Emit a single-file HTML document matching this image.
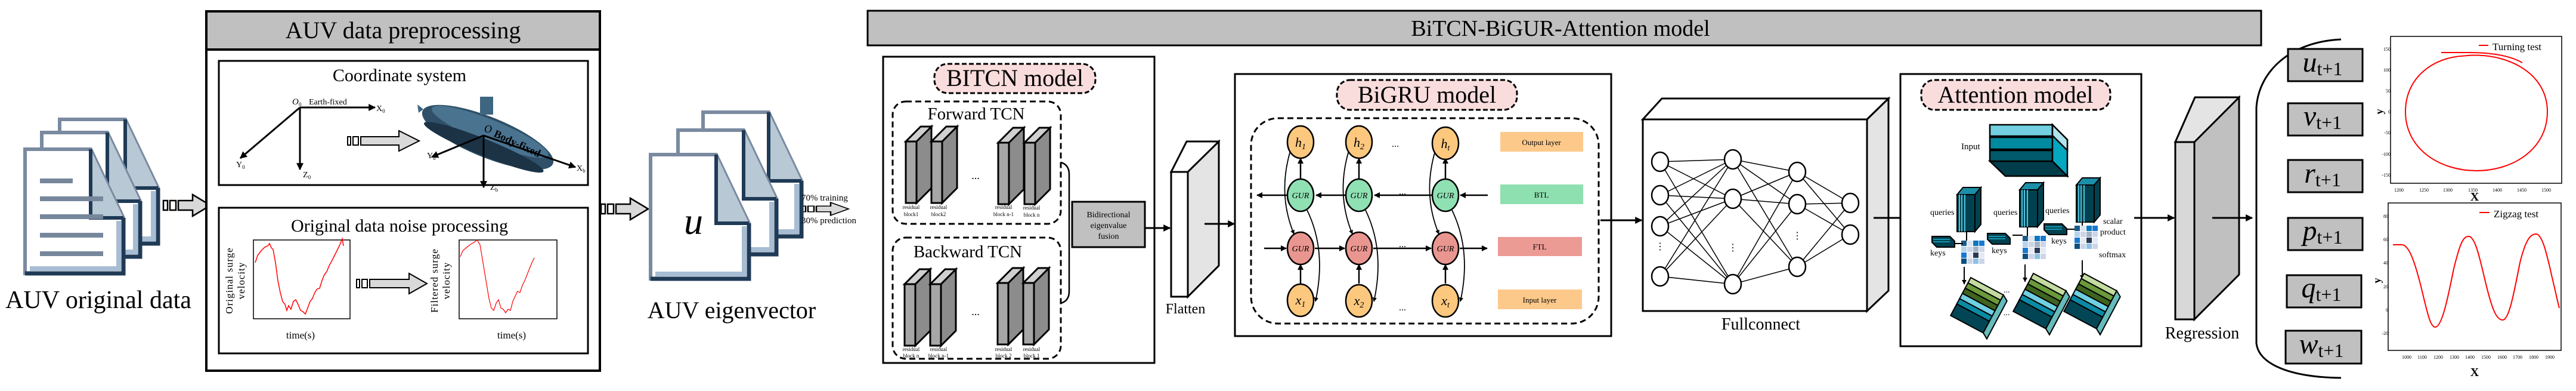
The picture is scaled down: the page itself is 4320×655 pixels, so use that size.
<!DOCTYPE html>
<html><head><meta charset="utf-8"><style>html,body{margin:0;padding:0;background:#fff}svg{display:block}svg text{font-family:"Liberation Serif","DejaVu Serif",serif !important}</style></head><body>
<svg width="4320" height="655" viewBox="0 0 4320 655" xmlns="http://www.w3.org/2000/svg" font-family="Liberation Serif, DejaVu Serif, serif">
<defs>
<marker id="ah" viewBox="0 0 10 10" refX="9" refY="5" markerWidth="4" markerHeight="4" orient="auto"><path d="M0,0L10,5L0,10z" fill="#000"/></marker>
<g id="page"><path d="M0,0H110L165,115V208H0Z" fill="#fff" stroke="#7a8aa0" stroke-width="6"/><path d="M110,0V115H165" fill="#b8c8d4" stroke="#1f3a56" stroke-width="6"/><path d="M165,115V208H0" fill="none" stroke="#1f3a56" stroke-width="7"/><path d="M157,120V200H8" fill="none" stroke="#a7bdd3" stroke-width="8"/></g>
<g id="blk"><path d="M0,0h18v103h-18z" fill="#a6a6a6" stroke="#000" stroke-width="3"/><path d="M18,0l25,-25v103l-25,25z" fill="#8c8c8c" stroke="#000" stroke-width="3"/><path d="M0,0l25,-25h18l-25,25z" fill="#d0d0d0" stroke="#000" stroke-width="3"/></g>
<g id="qs"><path d="M0,12l10,-12h30l-10,12z" fill="#1b8fa8" stroke="#000" stroke-width="2"/><rect x="0" y="12" width="30" height="62" fill="#02414f" stroke="#000" stroke-width="2"/><path d="M30,12l10,-12v62l-10,12z" fill="#02414f" stroke="#000" stroke-width="2"/><path d="M4,12v62M8,12v62M13,12v62" stroke="#4fc3dc" stroke-width="2"/></g>
<g id="ks"><path d="M0,4h30l8,8v10h-30l-8,-8z" fill="#02414f" stroke="#000" stroke-width="2"/><path d="M2,9h28M2,13h28" stroke="#19b3d0" stroke-width="1.5"/></g>
<g id="mx"><rect x="0" y="0" width="9" height="9" fill="#1a5a8a"/><rect x="10" y="0" width="9" height="9" fill="#dde3f0"/><rect x="20" y="0" width="9" height="9" fill="#0a78bf"/><rect x="30" y="0" width="9" height="9" fill="#1b78cf"/><rect x="0" y="10" width="9" height="9" fill="#b5d3eb"/><rect x="10" y="10" width="9" height="9" fill="#cdd5e8"/><rect x="20" y="10" width="9" height="9" fill="#a3b3c5"/><rect x="30" y="10" width="9" height="9" fill="#cdd5e8"/><rect x="0" y="20" width="9" height="9" fill="#1b78cf"/><rect x="10" y="20" width="9" height="9" fill="#e5e9f5"/><rect x="20" y="20" width="9" height="9" fill="#2a3a52"/><rect x="30" y="20" width="9" height="9" fill="#e5e9f5"/><rect x="0" y="30" width="9" height="9" fill="#0d5080"/><rect x="10" y="30" width="9" height="9" fill="#cdd5e8"/><rect x="20" y="30" width="9" height="9" fill="#8fc1e5"/><rect x="30" y="30" width="9" height="9" fill="#cdd5e8"/></g>
<g id="st"><g transform="rotate(28)"><rect x="0" y="0" width="62" height="10" fill="#c3dba0" stroke="#000" stroke-width="2"/><rect x="0" y="10" width="62" height="10" fill="#6a9a3a" stroke="#000" stroke-width="2"/><rect x="0" y="20" width="62" height="10" fill="#3e6420" stroke="#000" stroke-width="2"/><rect x="0" y="30" width="62" height="10" fill="#6fd0e2" stroke="#000" stroke-width="2"/><rect x="0" y="40" width="62" height="10" fill="#0a8aa5" stroke="#000" stroke-width="2"/><rect x="0" y="50" width="62" height="22" fill="#024656" stroke="#000" stroke-width="2"/><path d="M62,0l10,6v72l-10,-6z" fill="#6bb" stroke="#000" stroke-width="2"/></g></g>
<g id="ha"><rect x="0" y="-8" width="7" height="16" fill="#fff" stroke="#000" stroke-width="2.5"/><rect x="11" y="-8" width="10" height="16" fill="#fff" stroke="#000" stroke-width="2.5"/><path d="M25,-8h24v-10l30,18l-30,18v-10h-24z" fill="#d9d9d9" stroke="#000" stroke-width="2.5"/></g>
</defs>

<!-- AUV original data -->
<use href="#page" x="100" y="200"/>
<use href="#page" x="70" y="222"/>
<use href="#page" x="42" y="250"/>
<g fill="#76879c"><rect x="67" y="299" width="55" height="8"/><rect x="67" y="329" width="106" height="8"/><rect x="67" y="359" width="106" height="8"/><rect x="67" y="390" width="106" height="8"/><rect x="67" y="421" width="106" height="8"/></g>
<text x="165" y="516" font-size="42" text-anchor="middle">AUV original data</text>
<use href="#ha" x="274" y="344"/>
<use href="#ha" x="1008" y="350"/>
<g transform="translate(1344,350) scale(1,0.6)"><use href="#ha"/></g>

<!-- Preprocessing -->
<rect x="346" y="19" width="660" height="602" fill="#fff" stroke="#000" stroke-width="4"/>
<rect x="346" y="19" width="660" height="64" fill="#c0c0c0" stroke="#000" stroke-width="4"/>
<text x="676" y="64" font-size="40" text-anchor="middle">AUV data preprocessing</text>
<rect x="367" y="102" width="619" height="208" fill="#fff" stroke="#000" stroke-width="3"/>
<text x="670" y="136" font-size="30" text-anchor="middle">Coordinate system</text>
<g stroke="#000" stroke-width="3" fill="none" marker-end="url(#ah)"><path d="M503,180H629"/><path d="M503,180L403,265"/><path d="M503,180V284"/></g>
<text x="490" y="175" font-size="15" font-style="italic">O</text><text x="501" y="178" font-size="9">0</text>
<text x="518" y="175" font-size="14">Earth-fixed</text>
<text x="631" y="186" font-size="14">X<tspan font-size="9" dy="3">0</tspan></text>
<text x="396" y="280" font-size="14">Y<tspan font-size="9" dy="3">0</tspan></text>
<text x="508" y="297" font-size="14">Z<tspan font-size="9" dy="3">0</tspan></text>
<g transform="translate(583,236)"><rect x="0" y="-7" width="5" height="14" fill="#fff" stroke="#000" stroke-width="2"/><rect x="9" y="-7" width="9" height="14" fill="#fff" stroke="#000" stroke-width="2"/><path d="M22,-7h64v-10l34,17l-34,17v-10h-64z" fill="#d9d9d9" stroke="#000" stroke-width="2"/></g>
<g transform="rotate(22 818 230)"><ellipse cx="818" cy="230" rx="118" ry="34" fill="#2f5068"/><ellipse cx="818" cy="220" rx="105" ry="20" fill="#4a7390"/><ellipse cx="818" cy="248" rx="108" ry="14" fill="#1c3346"/></g>
<rect x="805" y="162" width="22" height="30" fill="#3f6680"/>
<path d="M700,175l10,8l-8,6z" fill="#3d6582"/>
<g stroke="#000" stroke-width="3" fill="none" marker-end="url(#ah)"><path d="M811,227L965,280"/><path d="M811,227L724,263"/><path d="M811,227V314"/></g>
<text x="812" y="222" font-size="18" font-style="italic">O</text>
<text x="827" y="228" font-size="18" font-weight="bold" transform="rotate(25 827 228)">Body-fixed</text>
<text x="967" y="286" font-size="14">X<tspan font-size="9" dy="3">b</tspan></text>
<text x="716" y="265" font-size="14">Y<tspan font-size="9" dy="3">b</tspan></text>
<text x="822" y="318" font-size="14">Z<tspan font-size="9" dy="3">b</tspan></text>

<rect x="367" y="348" width="619" height="244" fill="#fff" stroke="#000" stroke-width="3"/>
<text x="670" y="388" font-size="30" text-anchor="middle">Original data noise processing</text>
<rect x="425" y="402" width="162" height="132" fill="#fff" stroke="#000" stroke-width="1.5"/>
<rect x="770" y="402" width="164" height="132" fill="#fff" stroke="#000" stroke-width="1.5"/>
<polyline fill="none" stroke="#f00" stroke-width="1.5" points="428,440 432,428 438,420 444,414 449,412 452,408 455,415 458,418 462,440 466,470 470,490 474,505 478,510 481,520 484,512 488,518 492,505 496,502 500,510 504,520 508,522 512,526 516,516 520,505 524,500 528,490 532,484 536,483 540,470 544,460 548,455 552,445 556,438 560,430 565,420 570,410 574,400 576,412"/>
<polyline fill="none" stroke="#f00" stroke-width="1.2" points="772,430 776,420 782,415 788,410 795,406 800,402 805,410 810,440 815,470 820,500 824,516 828,520 832,508 836,502 840,516 844,518 848,524 852,518 856,520 860,505 864,496 868,488 872,490 876,478 880,470 884,460 888,450 892,440 896,432"/>
<text transform="translate(390,470) rotate(-90)" font-size="17" text-anchor="middle" letter-spacing="1">Original surge</text>
<text transform="translate(410,470) rotate(-90)" font-size="17" text-anchor="middle" letter-spacing="1">velocity</text>
<text transform="translate(734,470) rotate(-90)" font-size="17" text-anchor="middle" letter-spacing="1">Filtered surge</text>
<text transform="translate(754,470) rotate(-90)" font-size="17" text-anchor="middle" letter-spacing="1">velocity</text>
<text x="504" y="567" font-size="17" text-anchor="middle">time(s)</text>
<text x="858" y="567" font-size="17" text-anchor="middle">time(s)</text>
<g transform="translate(598,475)"><rect x="0" y="-7" width="5" height="14" fill="#fff" stroke="#000" stroke-width="2"/><rect x="9" y="-7" width="9" height="14" fill="#fff" stroke="#000" stroke-width="2"/><path d="M22,-7h66v-10l30,17l-30,17v-10h-66z" fill="#d9d9d9" stroke="#000" stroke-width="2"/></g>

<!-- eigenvector -->
<use href="#page" x="1179" y="188"/>
<use href="#page" x="1137" y="218"/>
<use href="#page" x="1091" y="259"/>
<text x="1163" y="392" font-size="64" font-style="italic" text-anchor="middle">u</text>
<text x="1227" y="533" font-size="40" text-anchor="middle">AUV eigenvector</text>
<text x="1344" y="336" font-size="15">70% training</text>
<text x="1344" y="374" font-size="15">30% prediction</text>

<!-- main header -->
<rect x="1455" y="18" width="2337" height="58" fill="#c0c0c0" stroke="#000" stroke-width="3"/>
<text x="2617" y="60" font-size="38" text-anchor="middle">BiTCN-BiGUR-Attention model</text>

<!-- BITCN -->
<rect x="1481" y="95" width="455" height="513" fill="#fff" stroke="#000" stroke-width="3"/>
<rect x="1567" y="107" width="270" height="49" rx="22" fill="#f9dcdc" stroke="#000" stroke-width="3" stroke-dasharray="8,4"/>
<text x="1702" y="144" font-size="40" text-anchor="middle">BITCN model</text>
<rect x="1497" y="170" width="282" height="205" rx="22" fill="none" stroke="#000" stroke-width="3" stroke-dasharray="10,6"/>
<rect x="1497" y="398" width="282" height="203" rx="22" fill="none" stroke="#000" stroke-width="3" stroke-dasharray="10,6"/>
<text x="1637" y="200" font-size="29" text-anchor="middle">Forward TCN</text>
<text x="1623" y="431" font-size="29" text-anchor="middle">Backward TCN</text>
<use href="#blk" x="1519" y="237"/><use href="#blk" x="1562" y="237"/><use href="#blk" x="1674" y="239"/><use href="#blk" x="1718" y="239"/>
<use href="#blk" x="1517" y="476"/><use href="#blk" x="1560" y="476"/><use href="#blk" x="1673" y="474"/><use href="#blk" x="1716" y="474"/>
<text x="1636" y="300" font-size="18" text-anchor="middle">...</text>
<text x="1636" y="528" font-size="18" text-anchor="middle">...</text>
<g font-size="9" text-anchor="middle"><text x="1528" y="350">residual</text><text x="1528" y="362">block1</text><text x="1574" y="350">residual</text><text x="1574" y="362">block2</text><text x="1683" y="350">residual</text><text x="1683" y="362">block n-1</text><text x="1730" y="351">residual</text><text x="1730" y="363">block n</text>
<text x="1528" y="588">residual</text><text x="1528" y="599">block n</text><text x="1574" y="588">residual</text><text x="1574" y="599">block n-1</text><text x="1683" y="588">residual</text><text x="1683" y="599">block 2</text><text x="1730" y="588">residual</text><text x="1730" y="599">block 1</text></g>
<path d="M1779,272q14,4 14,20v196q0,16 -14,20" fill="none" stroke="#000" stroke-width="2.5"/>
<rect x="1798" y="338" width="122" height="76" fill="#c0c0c0" stroke="#000" stroke-width="3"/>
<g font-size="14" text-anchor="middle"><text x="1859" y="364">Bidirectional</text><text x="1859" y="382">eigenvalue</text><text x="1859" y="400">fusion</text></g>
<path d="M1920,382H1962" stroke="#000" stroke-width="3" marker-end="url(#ah)"/>

<!-- Flatten -->
<path d="M1964,288l26,-51h54l-26,51z" fill="#fff" stroke="#000" stroke-width="3"/>
<path d="M1992,288l52,-51v208l-52,52z" fill="#e4e4e4" stroke="#000" stroke-width="3"/>
<rect x="1964" y="288" width="28" height="209" fill="#fff" stroke="#000" stroke-width="3"/>
<text x="1988" y="525" font-size="24" text-anchor="middle">Flatten</text>
<path d="M2020,375H2070" stroke="#000" stroke-width="3" marker-end="url(#ah)"/>

<!-- BiGRU -->
<rect x="2071" y="124" width="631" height="439" fill="#fff" stroke="#000" stroke-width="3"/>
<rect x="2242" y="134" width="302" height="50" rx="22" fill="#f9dcdc" stroke="#000" stroke-width="3" stroke-dasharray="8,4"/>
<text x="2393" y="172" font-size="40" text-anchor="middle">BiGRU model</text>
<rect x="2098" y="198" width="583" height="344" rx="45" fill="none" stroke="#000" stroke-width="3" stroke-dasharray="10,6"/>
<rect x="2516" y="221" width="139" height="33" fill="#fdc98b"/><text x="2585" y="243" font-size="13" text-anchor="middle">Output layer</text>
<rect x="2516" y="309" width="139" height="33" fill="#8fe0b0"/><text x="2585" y="331" font-size="13" text-anchor="middle">BTL</text>
<rect x="2512" y="397" width="141" height="32" fill="#ec9a94"/><text x="2582" y="418" font-size="13" text-anchor="middle">FTL</text>
<rect x="2512" y="485" width="141" height="33" fill="#fdc98b"/><text x="2582" y="507" font-size="13" text-anchor="middle">Input layer</text>
<g stroke="#000" stroke-width="2.5" fill="none" marker-end="url(#ah)">
<path d="M2495,327H2449"/><path d="M2401,327H2305"/><path d="M2256,327H2207"/><path d="M2158,327H2108"/>
<path d="M2120,416H2157"/><path d="M2205,416H2255"/><path d="M2303,416H2400"/><path d="M2448,416H2494"/>
<path d="M2181,301V265"/><path d="M2279,301V265"/><path d="M2424,301V265"/>
<path d="M2181,475V443"/><path d="M2279,475V443"/><path d="M2424,475V443"/>
<g stroke-width="1.8"><path d="M2168,240Q2140,320 2170,392"/><path d="M2266,240Q2238,320 2268,392"/><path d="M2411,240Q2383,320 2413,392"/>
<path d="M2192,352Q2225,420 2206,505"/><path d="M2290,352Q2323,420 2304,505"/><path d="M2435,352Q2468,420 2449,505"/></g>
</g>
<g stroke="#000" stroke-width="2.5">
<ellipse cx="2181" cy="238" rx="22" ry="27" fill="#fcc87e"/><ellipse cx="2279" cy="238" rx="22" ry="27" fill="#fcc87e"/><ellipse cx="2424" cy="240" rx="22" ry="27" fill="#fcc87e"/>
<ellipse cx="2181" cy="327" rx="22" ry="27" fill="#8fe0b3"/><ellipse cx="2279" cy="327" rx="22" ry="27" fill="#8fe0b3"/><ellipse cx="2424" cy="327" rx="22" ry="27" fill="#8fe0b3"/>
<ellipse cx="2181" cy="416" rx="22" ry="27" fill="#ea9690"/><ellipse cx="2279" cy="416" rx="22" ry="27" fill="#ea9690"/><ellipse cx="2424" cy="416" rx="22" ry="27" fill="#ea9690"/>
<ellipse cx="2181" cy="503" rx="22" ry="27" fill="#fcc87e"/><ellipse cx="2279" cy="504" rx="22" ry="27" fill="#fcc87e"/><ellipse cx="2424" cy="504" rx="22" ry="27" fill="#fcc87e"/>
</g>
<g font-size="22" font-style="italic" text-anchor="middle"><text x="2181" y="246">h<tspan font-size="14" dy="4">1</tspan></text><text x="2279" y="246">h<tspan font-size="14" dy="4">2</tspan></text><text x="2424" y="248">h<tspan font-size="14" dy="4">t</tspan></text>
<text x="2181" y="510">x<tspan font-size="14" dy="4">1</tspan></text><text x="2279" y="511">x<tspan font-size="14" dy="4">2</tspan></text><text x="2424" y="511">x<tspan font-size="14" dy="4">t</tspan></text></g>
<g font-size="14" font-style="italic" text-anchor="middle"><text x="2181" y="332">GUR</text><text x="2279" y="332">GUR</text><text x="2424" y="332">GUR</text><text x="2181" y="421">GUR</text><text x="2279" y="421">GUR</text><text x="2424" y="421">GUR</text></g>
<g font-size="16" text-anchor="middle"><text x="2340" y="246">...</text><text x="2352" y="326">...</text><text x="2352" y="414">...</text><text x="2352" y="520">...</text></g>
<path d="M2684,369H2753" stroke="#000" stroke-width="3" marker-end="url(#ah)"/>

<!-- Fullconnect -->
<path d="M2755,200l32,-35h380l-36,35z" fill="#fff" stroke="#000" stroke-width="3"/>
<path d="M3131,200l36,-35v322l-36,34z" fill="#e4e4e4" stroke="#000" stroke-width="3"/>
<rect x="2755" y="200" width="376" height="321" fill="#fff" stroke="#000" stroke-width="3"/>
<g stroke="#000" stroke-width="1.5">
<path d="M2784,271L2906,267M2784,271L2906,333M2784,271L2906,476M2784,327L2906,267M2784,327L2906,333M2784,327L2906,476M2784,379L2906,267M2784,379L2906,333M2784,379L2906,476M2784,463L2906,267M2784,463L2906,333M2784,463L2906,476"/>
<path d="M2906,267L3014,288M2906,267L3014,342M2906,267L3014,447M2906,333L3014,288M2906,333L3014,342M2906,333L3014,447M2906,476L3014,288M2906,476L3014,342M2906,476L3014,447"/>
<path d="M3014,288L3103,340M3014,288L3103,393M3014,342L3103,340M3014,342L3103,393M3014,447L3103,340M3014,447L3103,393"/>
</g>
<g stroke="#000" stroke-width="2.5" fill="#fff">
<ellipse cx="2784" cy="271" rx="14" ry="16"/><ellipse cx="2784" cy="327" rx="14" ry="16"/><ellipse cx="2784" cy="379" rx="14" ry="16"/><ellipse cx="2784" cy="463" rx="14" ry="16"/>
<ellipse cx="2906" cy="267" rx="14" ry="16"/><ellipse cx="2906" cy="333" rx="14" ry="16"/><ellipse cx="2906" cy="476" rx="14" ry="16"/>
<ellipse cx="3014" cy="288" rx="14" ry="16"/><ellipse cx="3014" cy="342" rx="14" ry="16"/><ellipse cx="3014" cy="447" rx="14" ry="16"/>
<ellipse cx="3103" cy="340" rx="14" ry="16"/><ellipse cx="3103" cy="393" rx="14" ry="16"/>
</g>
<g font-size="16" text-anchor="middle"><text x="2784" y="418">⋮</text><text x="2906" y="420">⋮</text><text x="3014" y="400">⋮</text></g>
<text x="2953" y="552" font-size="28" text-anchor="middle">Fullconnect</text>
<path d="M3142,365H3210" stroke="#000" stroke-width="3" marker-end="url(#ah)"/>

<!-- Attention -->
<rect x="3187" y="124" width="404" height="456" fill="#fff" stroke="#000" stroke-width="3"/>
<rect x="3222" y="134" width="317" height="50" rx="22" fill="#f9dcdc" stroke="#000" stroke-width="3" stroke-dasharray="8,4"/>
<text x="3380" y="172" font-size="40" text-anchor="middle">Attention model</text>
<g stroke="#000" stroke-width="2.5">
<path d="M3337,270h105l25,25h-104z" fill="#003d4a"/>
<rect x="3337" y="209" width="105" height="19" fill="#74cfe0"/>
<rect x="3337" y="230" width="105" height="20" fill="#008aa0"/>
<rect x="3337" y="252" width="105" height="18" fill="#005a6a"/>
<path d="M3442,209l25,25v61l-25,-25z" fill="#04a6c0"/>
<path d="M3442,209l25,25v18l-25,-25z" fill="#b0e2ec"/>
</g>
<text x="3289" y="250" font-size="15">Input</text>
<use href="#qs" x="3282" y="314"/><use href="#qs" x="3387" y="306"/><use href="#qs" x="3482" y="298"/>
<use href="#ks" x="3240" y="392"/><use href="#ks" x="3333" y="387"/><use href="#ks" x="3428" y="371"/>
<use href="#mx" x="3289" y="403"/><use href="#mx" x="3392" y="395"/><use href="#mx" x="3479" y="378"/>
<g stroke="#000" stroke-width="2"><path d="M3298,388V403M3400,380V395M3492,372V378M3279,408H3292M3375,394H3392M3467,384H3479"/></g>
<g font-size="14"><text x="3237" y="360">queries</text><text x="3343" y="360">queries</text><text x="3430" y="357">queries</text><text x="3237" y="428">keys</text><text x="3340" y="424">keys</text><text x="3440" y="408">keys</text><text x="3527" y="375">scalar</text><text x="3522" y="393">product</text><text x="3520" y="431">softmax</text></g>
<g stroke="#000" stroke-width="2" marker-end="url(#ah)"><path d="M3294,447V476"/><path d="M3396,443V472"/><path d="M3492,436V468"/></g>
<use href="#st" x="3305" y="465"/><use href="#st" x="3410" y="458"/><use href="#st" x="3495" y="458"/>
<text x="3360" y="490" font-size="14">...</text><text x="3360" y="528" font-size="14">...</text>
<path d="M3579,365H3646" stroke="#000" stroke-width="3" marker-end="url(#ah)"/>

<!-- Regression -->
<path d="M3648,238l33,-75h74l-33,75z" fill="#e4e4e4" stroke="#000" stroke-width="3"/>
<path d="M3680,238l75,-75v297l-75,75z" fill="#c0c0c0" stroke="#000" stroke-width="3"/>
<rect x="3648" y="238" width="32" height="297" fill="#d8d8d8" stroke="#000" stroke-width="3"/>
<text x="3693" y="567" font-size="28" text-anchor="middle">Regression</text>
<path d="M3710,365H3777" stroke="#000" stroke-width="3" marker-end="url(#ah)"/>

<!-- outputs -->
<path d="M3926,66C3840,70 3788,120 3784,180V575C3788,610 3840,632 3926,633" fill="none" stroke="#000" stroke-width="3"/>
<g fill="#c0c0c0" stroke="#000" stroke-width="3"><rect x="3837" y="82" width="125" height="54"/><rect x="3837" y="173" width="125" height="54"/><rect x="3837" y="268" width="125" height="54"/><rect x="3837" y="365" width="125" height="54"/><rect x="3835" y="461" width="125" height="54"/><rect x="3833" y="554" width="127" height="55"/></g>
<g font-size="48" font-style="italic" text-anchor="middle"><text x="3895" y="120">u<tspan font-style="normal" font-size="32" dy="6">t+1</tspan></text><text x="3895" y="210">v<tspan font-style="normal" font-size="32" dy="6">t+1</tspan></text><text x="3895" y="306">r<tspan font-style="normal" font-size="32" dy="6">t+1</tspan></text><text x="3895" y="402">p<tspan font-style="normal" font-size="32" dy="6">t+1</tspan></text><text x="3893" y="498">q<tspan font-style="normal" font-size="32" dy="6">t+1</tspan></text><text x="3893" y="592">w<tspan font-style="normal" font-size="32" dy="6">t+1</tspan></text></g>

<!-- plots -->
<rect x="4009" y="61" width="287" height="246" fill="#fff" stroke="#000" stroke-width="1.5"/>
<path d="M4132,93.6C4200,86 4272,120 4272,187C4272,250 4214,286 4153,286C4092,286 4034,250 4034,187C4034,130 4080,96 4132,93.6" fill="none" stroke="#f00" stroke-width="2"/>
<path d="M4094,88H4140Q4200,88 4230,105" fill="none" stroke="#f00" stroke-width="2"/>
<path d="M4157,76H4173" stroke="#f00" stroke-width="2"/>
<text x="4180" y="84" font-size="17">Turning test</text>
<g font-size="8" text-anchor="end"><text x="4009" y="85">150</text><text x="4009" y="120">100</text><text x="4009" y="155">50</text><text x="4009" y="190">0</text><text x="4009" y="225">-50</text><text x="4009" y="261">-100</text><text x="4009" y="296">-150</text></g>
<g font-size="8" text-anchor="middle"><text x="4023" y="321">1200</text><text x="4065" y="321">1250</text><text x="4105" y="321">1300</text><text x="4147" y="321">1350</text><text x="4188" y="321">1400</text><text x="4229" y="321">1450</text><text x="4270" y="321">1500</text></g>
<text x="4150" y="336" font-size="20" font-weight="bold" text-anchor="middle">X</text>
<text transform="translate(3996,187) rotate(-90)" font-size="18" font-weight="bold" text-anchor="middle">y</text>

<rect x="4005" y="340" width="290" height="247" fill="#fff" stroke="#000" stroke-width="1.5"/>
<path d="M4013,410H4028C4040,410 4050,440 4060,480C4070,520 4075,548 4084,548C4095,548 4105,500 4115,450C4125,410 4130,396 4140,396C4152,396 4160,440 4170,480C4180,520 4187,536 4197,536C4208,536 4216,490 4226,440C4236,400 4244,392 4253,392C4264,392 4272,430 4280,465C4286,490 4289,505 4292,516" fill="none" stroke="#f00" stroke-width="2"/>
<path d="M4158,356H4175" stroke="#f00" stroke-width="2"/>
<text x="4182" y="364" font-size="17">Zigzag test</text>
<g font-size="8" text-anchor="end"><text x="4005" y="365">80</text><text x="4005" y="404">60</text><text x="4005" y="443">40</text><text x="4005" y="483">20</text><text x="4005" y="522">0</text><text x="4005" y="561">-20</text></g>
<g font-size="8" text-anchor="middle"><text x="4036" y="601">1000</text><text x="4062" y="601">1100</text><text x="4089" y="601">1200</text><text x="4116" y="601">1300</text><text x="4142" y="601">1400</text><text x="4169" y="601">1500</text><text x="4196" y="601">1600</text><text x="4222" y="601">1700</text><text x="4249" y="601">1800</text><text x="4276" y="601">1900</text></g>
<text x="4150" y="630" font-size="20" font-weight="bold" text-anchor="middle">X</text>
<text transform="translate(3992,470) rotate(-90)" font-size="18" font-weight="bold" text-anchor="middle">y</text>
</svg>
</body></html>
